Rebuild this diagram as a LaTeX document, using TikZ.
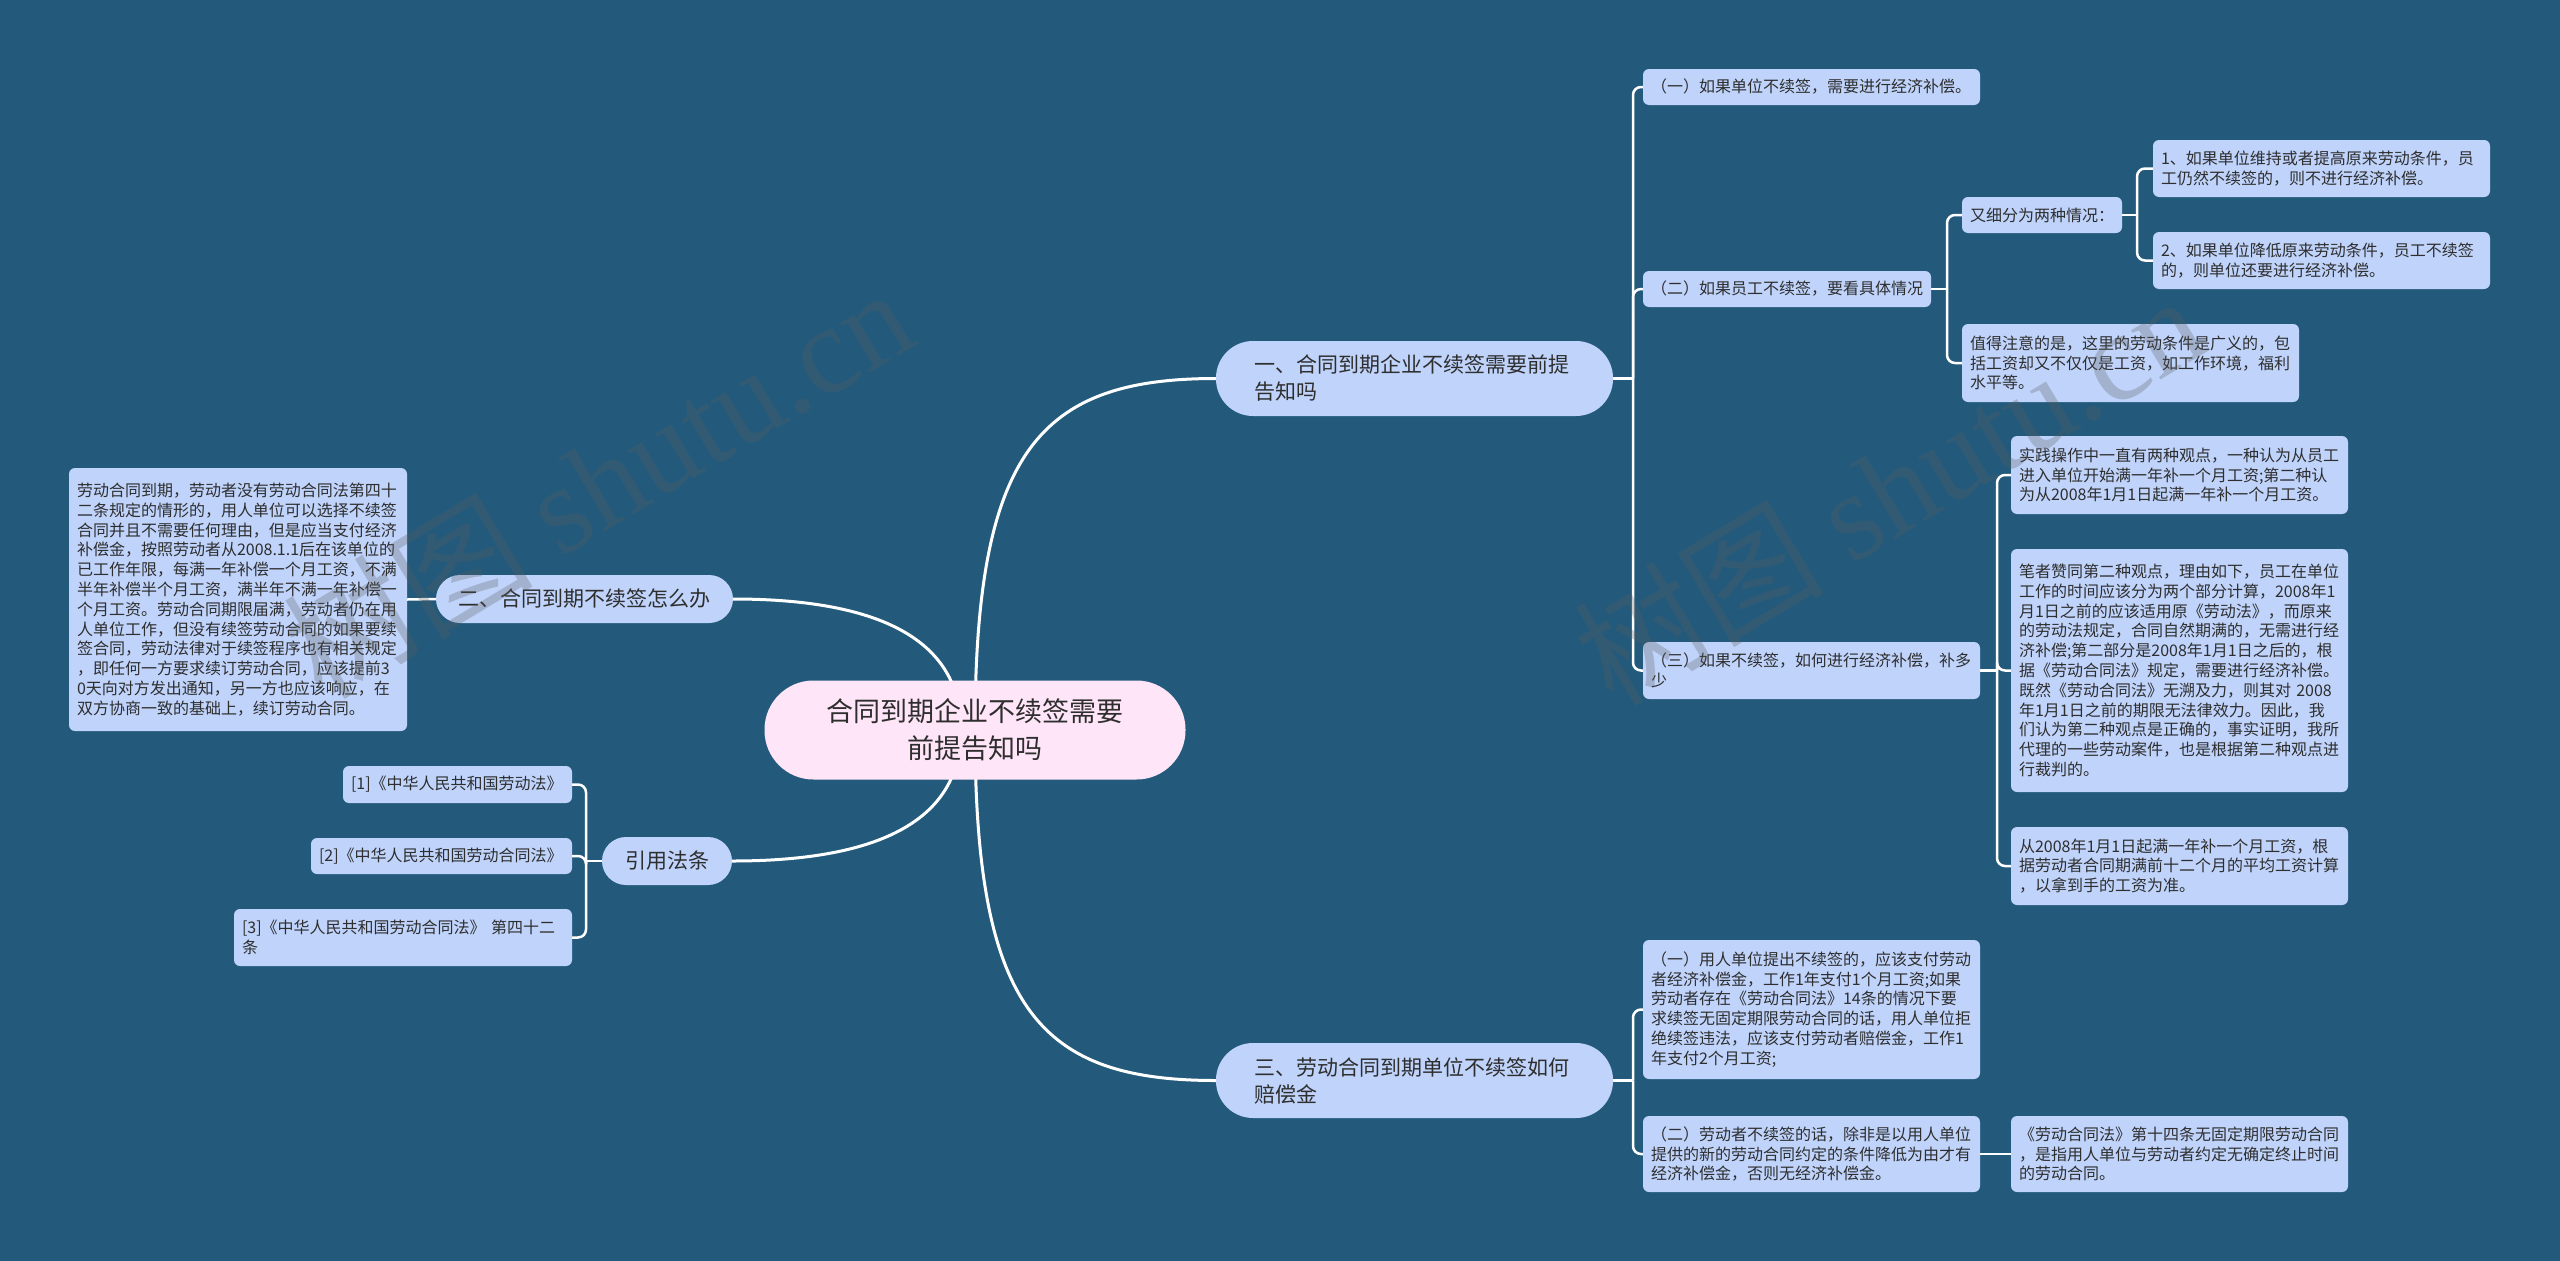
\documentclass[tikz,border=0pt]{standalone}
\usepackage{fontspec}
\setmainfont{Noto Sans CJK SC}
\newfontfamily\wmlatin{Liberation Serif}
\usetikzlibrary{calc}
\definecolor{bgc}{HTML}{235A7C}
\definecolor{boxc}{HTML}{BFD3FB}
\definecolor{rootc}{HTML}{FFE5F8}
\definecolor{txtc}{HTML}{2E2E2E}
\definecolor{wmc}{HTML}{5A5A5A}
\pgfdeclarelayer{back}
\pgfsetlayers{back,main}
\tikzset{
  leaf/.style={rectangle, rounded corners=6pt, fill=boxc, text=txtc, inner xsep=8pt, inner ysep=0pt, align=left, font=\fontsize{16}{19.8}\selectfont},
  pillwide/.style={rectangle, rounded corners=37pt, fill=boxc, text=txtc, inner xsep=38pt, inner ysep=0pt, text width=321pt, minimum height=75pt, align=left, font=\fontsize{21}{27}\selectfont},
  pillsmall/.style={rectangle, rounded corners=24pt, fill=boxc, text=txtc, inner xsep=0pt, inner ysep=0pt, minimum height=48pt, align=center, font=\fontsize{21}{27}\selectfont},
  rootbox/.style={rectangle, rounded corners=49pt, fill=rootc, text=txtc, inner xsep=0pt, inner ysep=0pt, minimum width=421pt, minimum height=99pt, align=center, font=\fontsize{27}{37}\selectfont},
  curve/.style={draw=white, line width=3pt},
  conn/.style={draw=white, line width=2.5pt, rounded corners=8pt},
  wm/.style={text=wmc, opacity=0.28, inner sep=0pt, font=\fontsize{125}{130}\selectfont}
}
\begin{document}
\begin{tikzpicture}[x=1pt,y=-1pt]
\useasboundingbox (0,0) rectangle (2560,1261);
\begin{pgfonlayer}{back}
\fill[bgc] (0,0) rectangle (2560,1261);
\end{pgfonlayer}

% root and main branches
\node[rootbox] (root) at (975,730) {合同到期企业不续签需要\\前提告知吗};
\node[pillwide] (b1) at (1414.5,378.5) {一、合同到期企业不续签需要前提\\告知吗};
\node[pillsmall, minimum width=297pt] (b2) at (584.5,599) {二、合同到期不续签怎么办};
\node[pillsmall, minimum width=130pt] (b3) at (667,861) {引用法条};
\node[pillwide] (b4) at (1414.5,1080.5) {三、劳动合同到期单位不续签如何\\赔偿金};

% branch 1 leaves
\node[leaf, text width=321pt, minimum height=36pt] (l11) at (1811.5,87) {（一）如果单位不续签，需要进行经济补偿。};
\node[leaf, text width=272pt, minimum height=36pt] (l12) at (1787,289) {（二）如果员工不续签，要看具体情况};
\node[leaf, text width=144pt, minimum height=36pt] (l121) at (2042,215) {又细分为两种情况：};
\node[leaf, text width=321pt, minimum height=57pt] (l1211) at (2321.5,168.5) {1、如果单位维持或者提高原来劳动条件，员\\工仍然不续签的，则不进行经济补偿。};
\node[leaf, text width=321pt, minimum height=57pt] (l1212) at (2321.5,260.5) {2、如果单位降低原来劳动条件，员工不续签\\的，则单位还要进行经济补偿。};
\node[leaf, text width=321pt, minimum height=78pt] (l122) at (2130.5,363) {值得注意的是，这里的劳动条件是广义的，包\\括工资却又不仅仅是工资，如工作环境，福利\\水平等。};
\node[leaf, text width=321pt, minimum height=57pt] (l13) at (1811.5,670.5) {（三）如果不续签，如何进行经济补偿，补多\\少};
\node[leaf, text width=321pt, minimum height=78pt] (l131) at (2179.5,475) {实践操作中一直有两种观点，一种认为从员工\\进入单位开始满一年补一个月工资;第二种认\\为从2008年1月1日起满一年补一个月工资。};
\node[leaf, text width=321pt, minimum height=243pt] (l132) at (2179.5,670.5) {笔者赞同第二种观点，理由如下，员工在单位\\工作的时间应该分为两个部分计算，2008年1\\月1日之前的应该适用原《劳动法》，而原来\\的劳动法规定，合同自然期满的，无需进行经\\济补偿;第二部分是2008年1月1日之后的，根\\据《劳动合同法》规定，需要进行经济补偿。\\既然《劳动合同法》无溯及力，则其对 2008\\年1月1日之前的期限无法律效力。因此，我\\们认为第二种观点是正确的，事实证明，我所\\代理的一些劳动案件，也是根据第二种观点进\\行裁判的。};
\node[leaf, text width=321pt, minimum height=78pt] (l133) at (2179.5,866) {从2008年1月1日起满一年补一个月工资，根\\据劳动者合同期满前十二个月的平均工资计算\\，以拿到手的工资为准。};

% branch 3 (三) leaves
\node[leaf, text width=321pt, minimum height=139pt] (l41) at (1811.5,1009.5) {（一）用人单位提出不续签的，应该支付劳动\\者经济补偿金，工作1年支付1个月工资;如果\\劳动者存在《劳动合同法》14条的情况下要\\求续签无固定期限劳动合同的话，用人单位拒\\绝续签违法，应该支付劳动者赔偿金，工作1\\年支付2个月工资;};
\node[leaf, text width=321pt, minimum height=76pt] (l42) at (1811.5,1154) {（二）劳动者不续签的话，除非是以用人单位\\提供的新的劳动合同约定的条件降低为由才有\\经济补偿金，否则无经济补偿金。};
\node[leaf, text width=321pt, minimum height=76pt] (l421) at (2179.5,1154) {《劳动合同法》第十四条无固定期限劳动合同\\，是指用人单位与劳动者约定无确定终止时间\\的劳动合同。};

% left leaves
\node[leaf, text width=322pt, minimum height=263pt] (l21) at (238,599.5) {劳动合同到期，劳动者没有劳动合同法第四十\\二条规定的情形的，用人单位可以选择不续签\\合同并且不需要任何理由，但是应当支付经济\\补偿金，按照劳动者从2008.1.1后在该单位的\\已工作年限，每满一年补偿一个月工资，不满\\半年补偿半个月工资，满半年不满一年补偿一\\个月工资。劳动合同期限届满，劳动者仍在用\\人单位工作，但没有续签劳动合同的如果要续\\签合同，劳动法律对于续签程序也有相关规定\\，即任何一方要求续订劳动合同，应该提前3\\0天向对方发出通知，另一方也应该响应，在\\双方协商一致的基础上，续订劳动合同。};
\node[leaf, text width=213pt, minimum height=37pt] (l31) at (457.5,784.5) {[1]《中华人民共和国劳动法》};
\node[leaf, text width=245pt, minimum height=36pt] (l32) at (441.5,856) {[2]《中华人民共和国劳动合同法》};
\node[leaf, text width=322pt, minimum height=57pt] (l33) at (403,937.5) {[3]《中华人民共和国劳动合同法》 第四十二\\条};

% junctions
\coordinate (j1) at (1633,378.5);
\coordinate (j12) at (1947,289);
\coordinate (j121) at (2137,215);
\coordinate (j13) at (1997,670.5);
\coordinate (j4) at (1633,1080.5);
\coordinate (j3) at (586,861);

\begin{pgfonlayer}{back}
\draw[curve] (root.center) .. controls (975,450) and (1040,378.5) .. (b1.west);
\draw[curve] ($(root.center)+(-14,0)$) .. controls (961,640) and (880,599) .. (b2.east);
\draw[curve] ($(root.center)+(-14,0)$) .. controls (961,820) and (880,861) .. (b3.east);
\draw[curve] (root.center) .. controls (975,1010) and (1040,1080.5) .. (b4.west);

\draw[conn] (b1.east) -- (j1);
\foreach \c in {l11,l12,l13} \draw[conn] (j1) |- (\c.west);
\draw[conn] (l12.east) -- (j12);
\foreach \c in {l121,l122} \draw[conn] (j12) |- (\c.west);
\draw[conn] (l121.east) -- (j121);
\foreach \c in {l1211,l1212} \draw[conn] (j121) |- (\c.west);
\draw[conn] (l13.east) -- (j13);
\foreach \c in {l131,l132,l133} \draw[conn] (j13) |- (\c.west);
\draw[conn] (b4.east) -- (j4);
\foreach \c in {l41,l42} \draw[conn] (j4) |- (\c.west);
\draw[conn] (l42.east) -- (l421.west);
\draw[conn] (b2.west) -- (l21.east);
\draw[conn] (b3.west) -- (j3);
\foreach \c in {l31,l32,l33} \draw[conn] (j3) |- (\c.east);
\end{pgfonlayer}

% watermarks
\node[wm, anchor=base west, rotate=31] (wm1) at (322,702) {树图 {\wmlatin shutu.cn}};
\node[wm, anchor=base west, rotate=31] (wm2) at (1613,709) {树图 {\wmlatin shutu.cn}};
\end{tikzpicture}
\end{document}
